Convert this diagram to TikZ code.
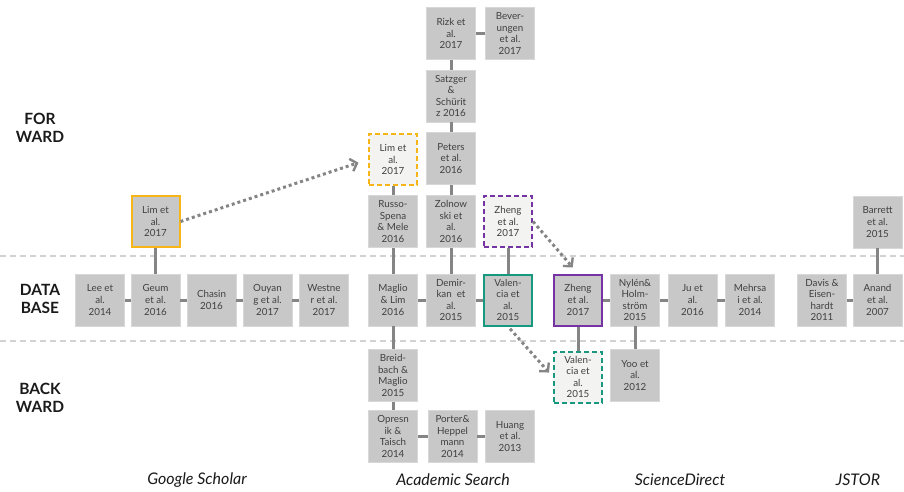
\documentclass[tikz,border=0pt]{standalone}
\usepackage{fontspec}
\setmainfont{Lato}
\usetikzlibrary{arrows.meta}
\definecolor{boxgray}{HTML}{C8C8C8}
\definecolor{boxedge}{HTML}{D8D8D8}
\definecolor{boxtext}{HTML}{404040}
\definecolor{linkgray}{HTML}{858585}
\definecolor{sepgray}{HTML}{D2D2D2}
\definecolor{hlyellow}{HTML}{F7B519}
\definecolor{hlpurple}{HTML}{7533A3}
\definecolor{hlteal}{HTML}{17997F}
\definecolor{lightfill}{HTML}{F3F3F2}
\definecolor{labeltext}{HTML}{1A1A1A}
\begin{document}
\begin{tikzpicture}[x=1pt,y=-1pt,
  paper/.style={rectangle, fill=boxgray, draw=boxedge, line width=0.6pt,
    minimum width=49pt, minimum height=52pt, inner sep=0pt, align=center,
    font=\fontsize{9.8}{11.6}\selectfont, text=boxtext},
  solidhl/.style={paper, draw=#1, line width=2pt, minimum width=48pt, minimum height=51pt},
  dashhl/.style={paper, fill=lightfill, draw=#1, line width=2pt, dash pattern=on 5pt off 3pt,
    minimum width=48pt, minimum height=51pt},
  link/.style={draw=linkgray, line width=3pt},
  dotarrow/.style={draw=linkgray, line width=3pt, dash pattern=on 3pt off 3pt,
    -{Straight Barb[length=6pt, width=13pt, line width=2.4pt]}},
  sep/.style={draw=sepgray, line width=1.5pt, dash pattern=on 6pt off 4pt},
  rowlabel/.style={align=center, font=\fontsize{15.5}{18}\selectfont\bfseries, text=labeltext},
  dblabel/.style={font=\fontsize{16}{19}\selectfont\itshape, text=labeltext}
]
\useasboundingbox (0,0) rectangle (904,491);

% separators
\draw[sep] (0,256) -- (904,256);
\draw[sep] (0,341) -- (904,341);

% row labels
\node[rowlabel] (fw) at (40,128) {FOR\\WARD};
\node[rowlabel] (db) at (40,299) {DATA\\BASE};
\node[rowlabel] (bw) at (40,398) {BACK\\WARD};

% database labels
\node[dblabel] (gs) at (197,480) {Google Scholar};
\node[dblabel] (as) at (453,480) {Academic Search};
\node[dblabel] (sd) at (680,480) {ScienceDirect};
\node[dblabel] (js) at (858,480) {JSTOR};

% Google Scholar
\node[paper] (lee) at (100,300) {Lee et\\al.\\2014};
\node[paper] (geum) at (155.5,300) {Geum\\et al.\\2016};
\node[paper] (chasin) at (211.5,300) {Chasin\\2016};
\node[paper] (ouyang) at (267.5,300) {Ouyan\\g et al.\\2017};
\node[paper] (westner) at (324,300) {Westne\\r et al.\\2017};
\node[solidhl=hlyellow] (limg) at (155.5,221.5) {Lim et\\al.\\2017};

% Academic Search
\node[paper] (rizk) at (451,33.5) {Rizk et\\al.\\2017};
\node[paper] (bever) at (510,33.5) {Bever-\\ungen\\et al.\\2017};
\node[paper] (satzger) at (451,96) {Satzger\\\&\\Schürit\\z 2016};
\node[paper] (peters) at (451,158.5) {Peters\\et al.\\2016};
\node[dashhl=hlyellow] (limd) at (393,159.5) {Lim et\\al.\\2017};
\node[paper] (russo) at (393,221.5) {Russo-\\Spena\\\& Mele\\2016};
\node[paper] (zoln) at (451,221.5) {Zolnow\\ski et\\al.\\2016};
\node[dashhl=hlpurple] (zhengd) at (508,221.5) {Zheng\\et al.\\2017};
\node[paper] (maglio) at (393,300) {Maglio\\\& Lim\\2016};
\node[paper] (demir) at (451,300) {Demir-\\kan~ et\\al.\\2015};
\node[solidhl=hlteal] (vals) at (508,300) {Valen-\\cia et\\al.\\2015};
\node[paper] (breid) at (393,375.5) {Breid-\\bach \&\\Maglio\\2015};
\node[paper] (opres) at (393,436.5) {Opresn\\ik \&\\Taisch\\2014};
\node[paper] (porter) at (452.5,436.5) {Porter\&\\Heppel\\mann\\2014};
\node[paper] (huang) at (510,436.5) {Huang\\et al.\\2013};

% ScienceDirect
\node[solidhl=hlpurple] (zhengs) at (578,300) {Zheng\\et al.\\2017};
\node[paper] (nylen) at (635,300) {Nylén\&\\Holm-\\ström\\2015};
\node[paper] (ju) at (692.5,300) {Ju et\\al.\\2016};
\node[paper] (mehrsai) at (750,300) {Mehrsa\\i et al.\\2014};
\node[dashhl=hlteal] (vald) at (578,377) {Valen-\\cia et\\al.\\2015};
\node[paper] (yoo) at (635,375.5) {Yoo et\\al.\\2012};

% JSTOR
\node[paper] (davis) at (822,300) {Davis \&\\Eisen-\\hardt\\2011};
\node[paper] (anand) at (877.5,300) {Anand\\et al.\\2007};
\node[paper] (barrett) at (877.5,222) {Barrett\\et al.\\2015};

% links
\draw[link] (lee) -- (geum);
\draw[link] (geum) -- (chasin);
\draw[link] (chasin) -- (ouyang);
\draw[link] (ouyang) -- (westner);
\draw[link] (geum) -- (limg);

\draw[link] (rizk) -- (bever);
\draw[link] (rizk) -- (satzger);
\draw[link] (satzger) -- (peters);
\draw[link] (peters) -- (zoln);
\draw[link] (zoln) -- (demir);
\draw[link] (limd) -- (russo);
\draw[link] (russo) -- (maglio);
\draw[link] (maglio) -- (demir);
\draw[link] (demir) -- (vals);
\draw[link] (zhengd) -- (vals);
\draw[link] (maglio) -- (breid);
\draw[link] (breid) -- (opres);
\draw[link] (opres) -- (porter);
\draw[link] (porter) -- (huang);

\draw[link] (zhengs) -- (nylen);
\draw[link] (nylen) -- (ju);
\draw[link] (ju) -- (mehrsai);
\draw[link] (zhengs) -- (vald);
\draw[link] (nylen) -- (yoo);

\draw[link] (davis) -- (anand);
\draw[link] (anand) -- (barrett);

% dotted arrows
\draw[dotarrow, shorten >=10pt] (limg.east) -- (limd.west);
\draw[dotarrow, shorten >=8pt] (zhengd.east) -- (zhengs.north);
\draw[dotarrow, shorten >=6pt, shorten <=3pt] (vals.south) -- (vald.west);
\end{tikzpicture}
\end{document}
